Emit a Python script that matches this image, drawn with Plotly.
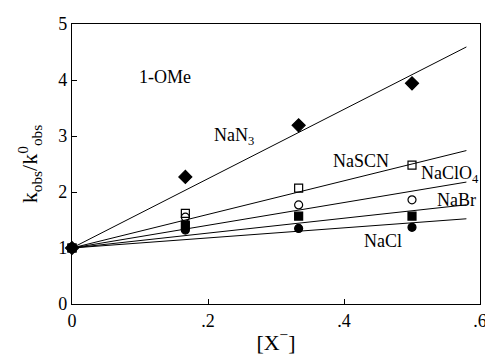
import plotly.graph_objects as go

x_conc = [0.0, 0.1667, 0.3333, 0.5]
nan3 = [1.0, 2.27, 3.19, 3.94]
nascn = [1.0, 1.62, 2.07, 2.48]
naclo4 = [1.0, 1.55, 1.77, 1.86]
nabr = [1.0, 1.41, 1.57, 1.57]
nacl = [1.0, 1.32, 1.35, 1.37]

fit_x_end = 0.58
slopes = [6.19, 3.0, 2.03, 1.33, 0.90]

series = [
    ("NaN3", nan3, "diamond", "black", 10),
    ("NaSCN", nascn, "square-open", "black", 8),
    ("NaClO4", naclo4, "circle-open", "black", 8),
    ("NaBr", nabr, "square", "black", 8),
    ("NaCl", nacl, "circle", "black", 8),
]

labels = [
    ("1-OMe", 0.137, 4.06),
    ("NaN<sub>3</sub>", 0.238, 2.99),
    ("NaSCN", 0.425, 2.55),
    ("NaClO<sub>4</sub>", 0.556, 2.31),
    ("NaBr", 0.566, 1.86),
    ("NaCl", 0.458, 1.13),
]

fig = go.Figure()
for k in slopes:
    fig.add_trace(go.Scatter(x=[0, fit_x_end], y=[1, 1 + k * fit_x_end], mode="lines",
                             line=dict(color="black", width=1), showlegend=False, hoverinfo="skip"))
for name, ys, sym, col, sz in series:
    fig.add_trace(go.Scatter(x=x_conc, y=ys, mode="markers", name=name,
                             marker=dict(symbol=sym, color=col, size=sz,
                                         line=dict(color="black", width=1.2)),
                             showlegend=False, cliponaxis=False))

font_fam = "Liberation Serif"
for txt, lx, ly in labels:
    fig.add_annotation(x=lx, y=ly, text=txt, showarrow=False, xanchor="center", yanchor="middle",
                       font=dict(family=font_fam, size=18, color="black"))

fig.update_layout(
    width=485, height=348,
    margin=dict(l=64, r=6, t=12, b=47),
    paper_bgcolor="white", plot_bgcolor="white",
    font=dict(family=font_fam, size=18, color="black"),
)
fig.update_xaxes(range=[0, 0.6], tickvals=[0, 0.2, 0.4, 0.6], ticktext=["0", ".2", ".4", ".6"],
                 ticks="inside", ticklen=5, tickcolor="black", showline=True, linecolor="black",
                 linewidth=1.2, mirror=True, showgrid=False, zeroline=False,
                 title=dict(text="[X<sup>−</sup>]", standoff=4))
fig.update_yaxes(range=[0, 5], tickvals=[0, 1, 2, 3, 4, 5],
                 ticks="inside", ticklen=5, tickcolor="black", showline=True, linecolor="black",
                 linewidth=1.2, mirror=True, showgrid=False, zeroline=False,
                 title=dict(text="k<sub>obs</sub>/k<sup>0</sup><sub>obs</sub>", standoff=14))

fig.write_html("out.html")
